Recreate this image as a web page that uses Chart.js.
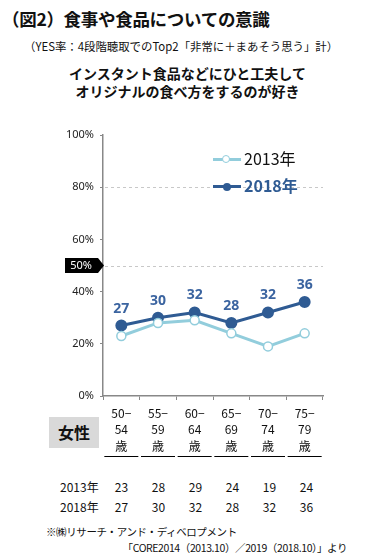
<!DOCTYPE html>
<html>
<head>
<meta charset="utf-8">
<script src="https://cdn.jsdelivr.net/npm/chart.js@4.4.1/dist/chart.umd.min.js"></script>
<style>
  body { margin: 0; width: 375px; height: 557px; background: #fff; position: relative; overflow: hidden;
         font-family: "Noto Sans CJK JP", "Noto Sans", sans-serif; color: #111; }
  .abs { position: absolute; white-space: nowrap; }
  #title { left: 2px; top: 6px; font-size: 17.5px; font-weight: bold; letter-spacing: -0.3px; }
  #sub { left: 24px; top: 38px; font-size: 11.4px; }
  #ctitle { left: 0; width: 375px; top: 64px; text-align: center; font-size: 14px; font-weight: bold; line-height: 18px; }
  #wrap { position: absolute; left: 0; top: 120px; width: 375px; height: 350px; }
  .leg { left: 213px; font-size: 16px; line-height: 20px; }
  .leg i { display: inline-block; position: relative; width: 28px; height: 3px; vertical-align: middle; margin-right: 3px; top: -1px; }
  .leg b.dot { position: absolute; left: 10px; top: -3px; width: 6px; height: 6px; border-radius: 50%; }
  #sex { left: 49px; top: 417px; width: 50px; height: 31px; background: #d9d9d9; font-size: 16px; font-weight: bold;
         text-align: center; line-height: 31px; }
  .row { left: 60px; font-size: 12px; }
  .row span { display: inline-block; text-align: center; }
  .row .lab { width: 43px; text-align: left; }
  .row .v { width: 37px; }
  .foot { font-size: 10.5px; letter-spacing: -0.4px; }
</style>
</head>
<body>
<div class="abs" id="title">（図2）食事や食品についての意識</div>
<div class="abs" id="sub">（YES率：4段階聴取でのTop2「非常に＋まあそう思う」計）</div>
<div class="abs" id="ctitle">インスタント食品などにひと工夫して<br>オリジナルの食べ方をするのが好き</div>
<div id="wrap"><canvas id="c" width="375" height="350"></canvas></div>
<div class="abs leg" style="top:148px;color:#111"><i style="background:#92cddc"><b class="dot" style="background:#fff;border:1.5px solid #92cddc;top:-3.5px;left:9px"></b></i>2013年</div>
<div class="abs leg" style="top:175px;color:#2f5b93;font-weight:bold"><i style="background:#2f5b93"><b class="dot" style="background:#2f5b93;width:8px;height:8px;top:-2.5px"></b></i>2018年</div>
<div class="abs" id="sex">女性</div>
<div class="abs row" id="r2013" style="top:478px"></div>
<div class="abs row" id="r2018" style="top:498px"></div>
<div class="abs foot" style="left:46px;top:524px">※㈱リサーチ・アンド・ディベロプメント</div>
<div class="abs foot" style="right:28px;top:540px">「CORE2014（2013.10）／2019（2018.10）」より</div>
<script>
var ageFrom = ["50−", "55−", "60−", "65−", "70−", "75−"]
var ageTo = ["54", "59", "64", "69", "74", "79"]
var years = ["2013年", "2018年"]
var values2013 = [23, 28, 29, 24, 19, 24]
var values2018 = [27, 30, 32, 28, 32, 36]
var yTicks = [0, 20, 40, 60, 80, 100]
var refLines = [80, 50]

var light = "#92cddc"
var dark = "#2f5b93"

// table rows under the chart
function fillRow(id, label, vals) {
  var html = '<span class="lab">' + label + '</span>'
  vals.forEach(function (v) { html += '<span class="v">' + v + '</span>' })
  document.getElementById(id).innerHTML = html
}
fillRow("r2013", years[0], values2013)
fillRow("r2018", years[1], values2018)

var extras = {
  id: "extras",
  beforeDatasetsDraw: function (chart) {
    var ctx = chart.ctx, a = chart.chartArea, y = chart.scales.y
    ctx.save()
    ctx.strokeStyle = "#c8c8c8"
    ctx.lineWidth = 1
    ctx.setLineDash([3, 3])
    refLines.forEach(function (v) {
      var py = Math.round(y.getPixelForValue(v)) + 0.5
      ctx.beginPath(); ctx.moveTo(a.left + 2, py); ctx.lineTo(a.right, py); ctx.stroke()
    })
    ctx.setLineDash([])
    // 50% tag
    var ty = y.getPixelForValue(50)
    ctx.fillStyle = "#000"
    ctx.beginPath()
    ctx.moveTo(65, ty - 7.5); ctx.lineTo(98, ty - 7.5); ctx.lineTo(104, ty)
    ctx.lineTo(98, ty + 7.5); ctx.lineTo(65, ty + 7.5); ctx.closePath(); ctx.fill()
    ctx.fillStyle = "#fff"
    ctx.font = "11px 'Noto Sans', sans-serif"
    ctx.textAlign = "center"; ctx.textBaseline = "middle"
    ctx.fillText("50%", 81, ty + 0.5)
    ctx.restore()
  },
  afterDraw: function (chart) {
    var ctx = chart.ctx, a = chart.chartArea, x = chart.scales.x
    var meta = chart.getDatasetMeta(1)
    ctx.save()
    ctx.fillStyle = "#3b64a0"
    ctx.font = "bold 14px 'Noto Sans', sans-serif"
    ctx.textAlign = "center"; ctx.textBaseline = "middle"
    meta.data.forEach(function (pt, i) {
      ctx.fillText(values2018[i], pt.x, pt.y - 17)
    })
    ctx.strokeStyle = "#000"
    ctx.lineWidth = 1
    ageFrom.forEach(function (_, i) {
      var px = x.getPixelForValue(i)
      ctx.beginPath(); ctx.moveTo(px - 17, a.bottom + 60.5); ctx.lineTo(px + 17, a.bottom + 60.5); ctx.stroke()
    })
    ctx.restore()
  }
}

new Chart(document.getElementById("c"), {
  type: "line",
  data: {
    labels: ageFrom.map(function (f, i) { return [f, ageTo[i], "歳"] }),
    datasets: [
      {
        label: years[0], data: values2013,
        borderColor: light, borderWidth: 3,
        pointBackgroundColor: "#fff", pointBorderColor: light, pointBorderWidth: 1.5, pointRadius: 4.5
      },
      {
        label: years[1], data: values2018,
        borderColor: dark, backgroundColor: dark, borderWidth: 3,
        pointBackgroundColor: dark, pointBorderColor: dark, pointRadius: 4.5
      }
    ]
  },
  options: {
    responsive: false,
    animation: false,
    layout: { padding: { top: 15, right: 52, left: 0, bottom: 0 } },
    plugins: { legend: { display: false }, tooltip: { enabled: false } },
    scales: {
      x: {
        offset: true,
        grid: { offset: true, drawOnChartArea: false, tickLength: 4, color: "#888", lineWidth: 1 },
        border: { color: "#888", width: 1.5 },
        ticks: { color: "#111", font: { size: 12, family: "'Noto Sans CJK JP', sans-serif", lineHeight: 1.38 }, padding: 5, maxRotation: 0 },
        afterFit: function (s) { s.height = 74 }
      },
      y: {
        min: 0, max: 100,
        afterBuildTicks: function (s) { s.ticks = yTicks.map(function (v) { return { value: v } }) },
        grid: { drawOnChartArea: false, tickLength: 3, color: "#888" },
        border: { color: "#888", width: 1.5 },
        ticks: { color: "#222", font: { size: 11, family: "'Noto Sans', sans-serif" }, padding: 6,
                 callback: function (v) { return v + "%" } },
        afterFit: function (s) { s.width = 103 }
      }
    }
  },
  plugins: [extras]
})
</script>
</body>
</html>
